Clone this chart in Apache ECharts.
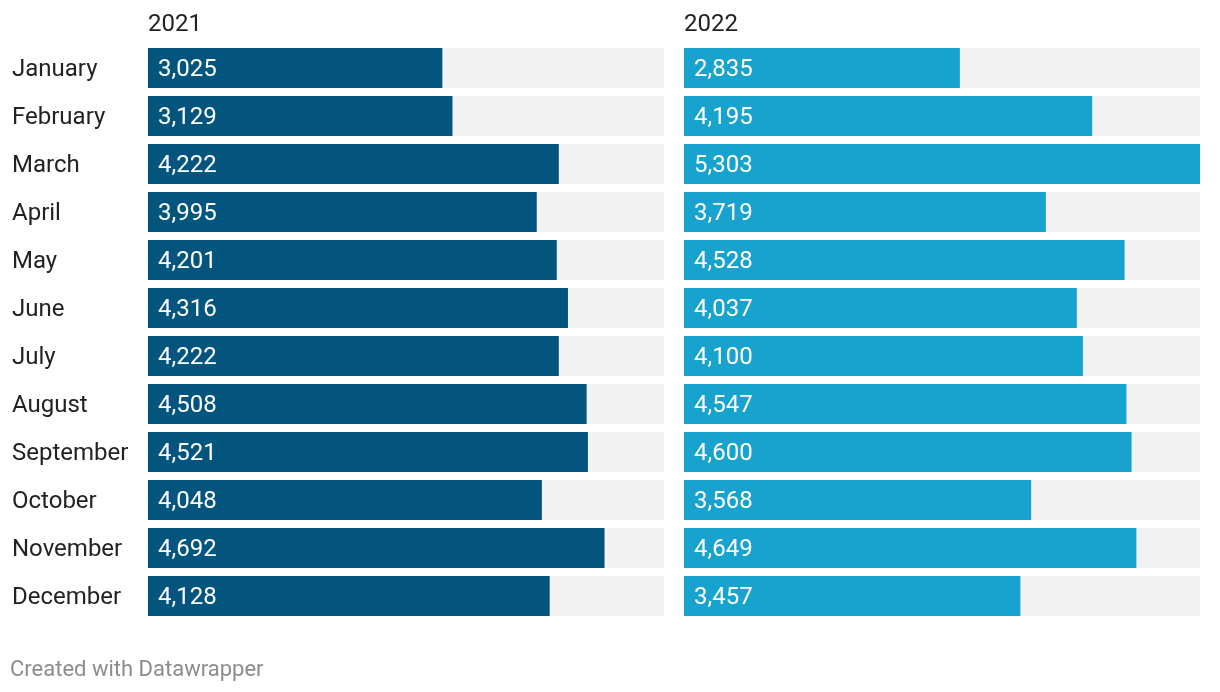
<!DOCTYPE html>
<html><head><meta charset="utf-8">
<script src="https://cdn.jsdelivr.net/npm/echarts@6/dist/echarts.min.js"></script>
<style>html,body{margin:0;padding:0;background:#fff}#c{width:1220px;height:692px}</style>
</head><body><div id="c"></div>
<script>
const months = ["January","February","March","April","May","June","July","August","September","October","November","December"];
const values2021 = [3025,3129,4222,3995,4201,4316,4222,4508,4521,4048,4692,4128];
const values2022 = [2835,4195,5303,3719,4528,4037,4100,4547,4600,3568,4649,3457];
const panelTitles = ["2021","2022"];
const maxValue = 5303;

const FONT = 'Roboto';
const fmt = v => v.toLocaleString('en-US');
const chart = echarts.init(document.getElementById('c'), null, {renderer:'canvas'});

function xAx(i){return {type:'value',gridIndex:i,min:0,max:maxValue,show:false};}
function yAx(i,showLabels){return {
  type:'category',gridIndex:i,data:months,inverse:true,
  axisLine:{show:false},axisTick:{show:false},splitLine:{show:false},
  axisLabel:{show:showLabels,align:'left',margin:136,color:'#222',fontSize:24,fontFamily:FONT,
    formatter:v=>'{m|'+v+'}',
    rich:{m:{fontSize:24,fontFamily:FONT,color:'#222',lineHeight:24,padding:[4,0,0,0]}}}
};}
function ser(i,data,color){return {
  type:'bar',xAxisIndex:i,yAxisIndex:i,data:data,barWidth:40,
  itemStyle:{color:color},
  showBackground:true,backgroundStyle:{color:'#f2f2f2'},
  label:{show:true,position:'insideLeft',distance:10,offset:[0,2],color:'#fff',fontSize:24,fontFamily:FONT,
    formatter:p=>fmt(p.value)},
  silent:true,animation:false
};}

chart.setOption({
  animation:false,
  textStyle:{fontFamily:FONT},
  title:[
    {text:panelTitles[0],left:148,top:13,padding:0,textStyle:{fontSize:24,fontWeight:'normal',color:'#222',fontFamily:FONT}},
    {text:panelTitles[1],left:684,top:13,padding:0,textStyle:{fontSize:24,fontWeight:'normal',color:'#222',fontFamily:FONT}},
    {text:'Created with Datawrapper',left:10,top:659,padding:0,textStyle:{fontSize:22,fontWeight:'normal',color:'#8c8c8c',fontFamily:FONT}}
  ],
  grid:[
    {left:148,width:516,top:44,height:576},
    {left:684,width:516,top:44,height:576}
  ],
  xAxis:[xAx(0),xAx(1)],
  yAxis:[yAx(0,true),yAx(1,false)],
  series:[ser(0,values2021,'#03557e'),ser(1,values2022,'#18a3cf')]
});
</script></body></html>
